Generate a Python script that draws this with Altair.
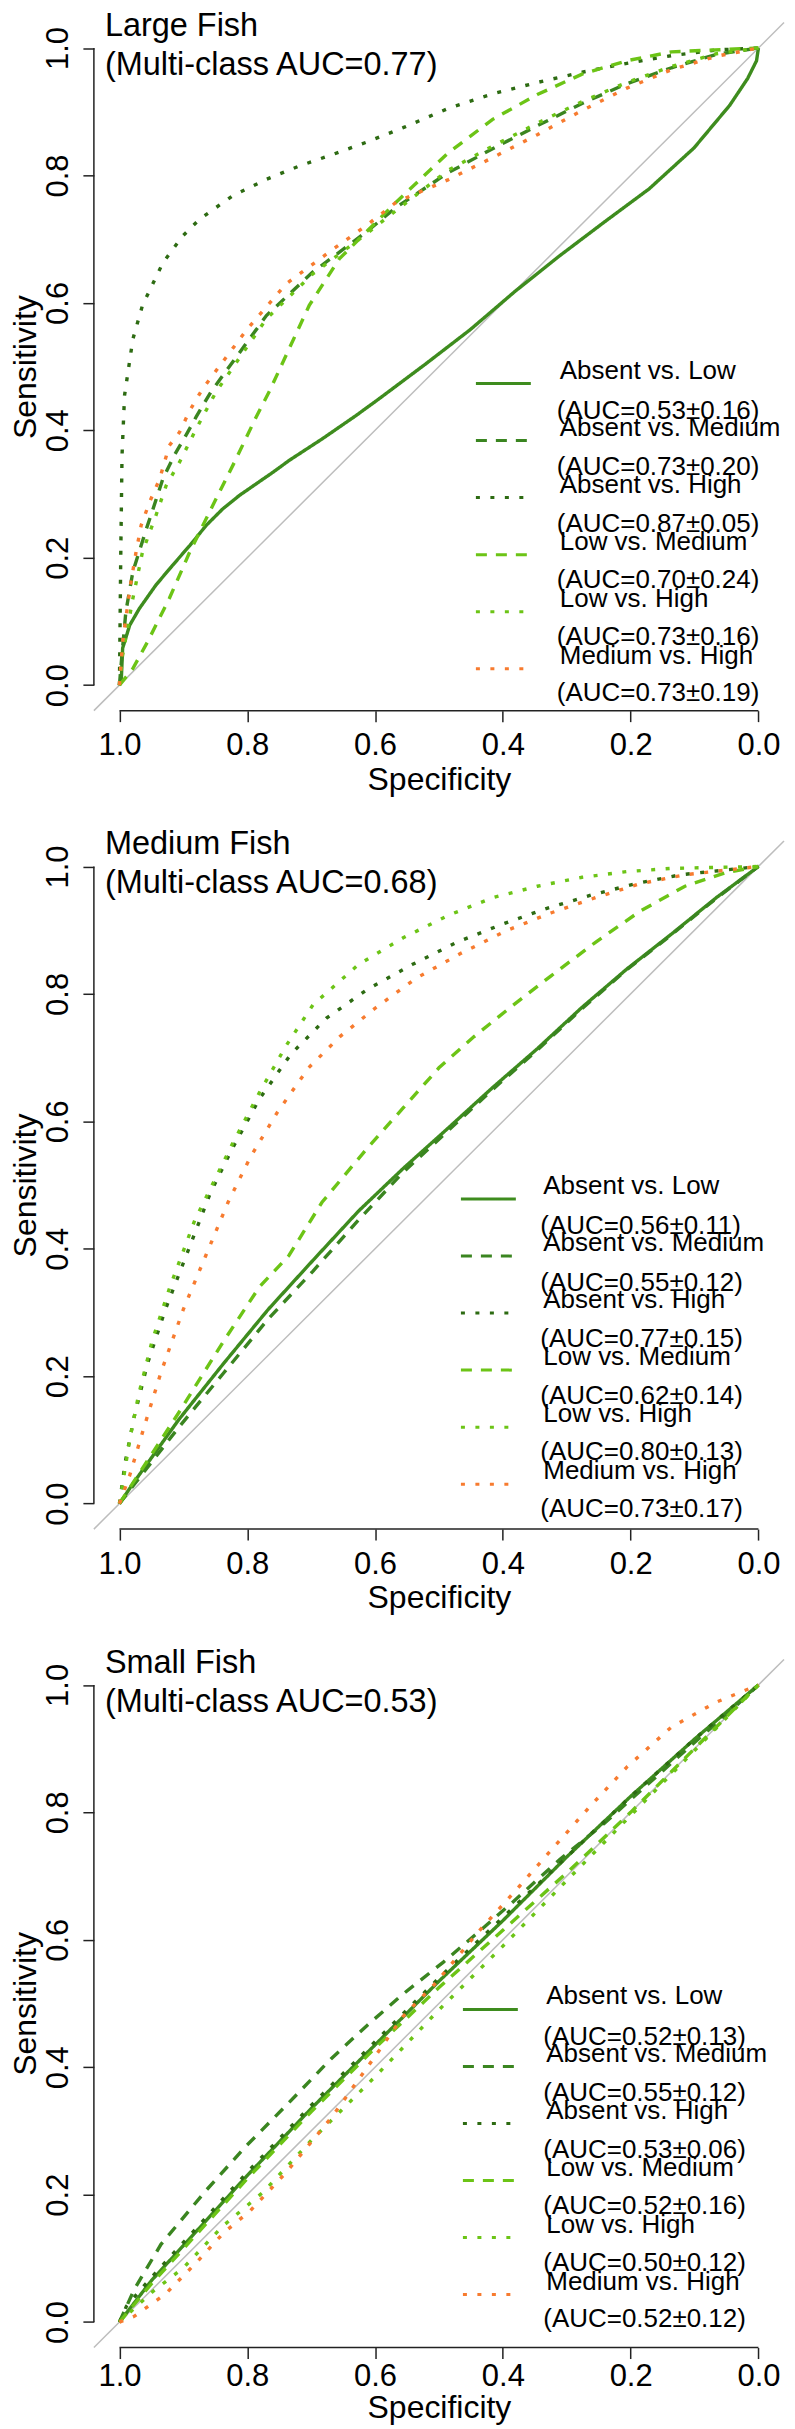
import altair as alt
import pandas as pd

FONT = "Liberation Sans"

PAIRS = ["Absent vs. Low", "Absent vs. Medium", "Absent vs. High",
         "Low vs. Medium", "Low vs. High", "Medium vs. High"]
COLORS = ["#3e8c1e", "#3a8520", "#2d6b12", "#6cc416", "#6cc416", "#f77b2f"]
DASHES = [[1, 0], [11, 9], [4, 10.5], [11, 9], [4, 10.5], [4, 10.5]]

TICKS = [0.0, 0.2, 0.4, 0.6, 0.8, 1.0]
AXIS_ENDS = [0.0, 1.0]
DIAG_SPEC = [1.04, -0.04]
DIAG_SENS = [-0.04, 1.04]

PANEL_NAMES = ["Large Fish", "Medium Fish", "Small Fish"]
MULTI_AUC = ["0.77", "0.68", "0.53"]
PAIR_AUC = [
    ["0.53±0.16", "0.73±0.20", "0.87±0.05", "0.70±0.24", "0.73±0.16", "0.73±0.19"],
    ["0.56±0.11", "0.55±0.12", "0.77±0.15", "0.62±0.14", "0.80±0.13", "0.73±0.17"],
    ["0.52±0.13", "0.55±0.12", "0.53±0.06", "0.52±0.16", "0.50±0.12", "0.52±0.12"],
]

# ---- Large fish: (1 - specificity, sensitivity) ----
L_AL_FPR = [0, .003, .005, .016, .031, .057, .083, .110, .136, .162, .188, .214, .240, .266, .318, .370, .407, .479, .549, .619, .689, .759, .829, .899, .955, .983, .997, 1]
L_AL_SEN = [0, .011, .058, .094, .120, .157, .188, .219, .251, .277, .298, .316, .334, .353, .387, .423, .450, .504, .558, .618, .674, .727, .779, .843, .910, .952, .980, 1]
L_AM_FPR = [0, .003, .010, .021, .031, .042, .052, .068, .086, .104, .120, .143, .230, .302, .386, .433, .514, .584, .654, .724, .794, .864, .934, 1]
L_AM_SEN = [0, .037, .115, .178, .210, .245, .275, .324, .361, .392, .421, .460, .580, .648, .711, .750, .804, .842, .878, .913, .944, .969, .990, 1]
L_AH_FPR = [0, .002, .004, .008, .021, .036, .068, .099, .125, .177, .230, .282, .334, .386, .444, .514, .584, .654, .724, .794, .864, .934, 1]
L_AH_SEN = [0, .200, .360, .455, .543, .596, .663, .705, .731, .768, .794, .815, .833, .852, .875, .905, .928, .946, .962, .976, .988, .997, 1]
L_LM_FPR = [0, .021, .044, .078, .110, .146, .180, .214, .235, .297, .344, .386, .433, .514, .584, .654, .724, .794, .864, 1]
L_LM_SEN = [0, .026, .068, .136, .209, .282, .350, .421, .462, .596, .669, .711, .758, .835, .888, .927, .959, .980, .994, 1]
L_LH_FPR = [0, .005, .021, .036, .057, .073, .094, .120, .151, .230, .302, .386, .433, .514, .584, .654, .724, .794, .864, .934, 1]
L_LH_SEN = [0, .047, .136, .209, .266, .313, .350, .402, .460, .575, .645, .708, .745, .808, .846, .882, .916, .946, .971, .991, 1]
L_MH_FPR = [0, .005, .010, .018, .026, .034, .047, .063, .078, .094, .110, .130, .200, .261, .334, .386, .433, .514, .584, .654, .724, .794, .864, .934, 1]
L_MH_SEN = [0, .068, .105, .162, .209, .251, .287, .324, .376, .397, .431, .465, .559, .630, .684, .721, .758, .793, .828, .864, .902, .937, .966, .987, 1]

# ---- Medium fish ----
M_AL_FPR = [0, .023, .093, .163, .233, .303, .374, .444, .514, .584, .654, .724, .794, .864, .934, 1]
M_AL_SEN = [0, .034, .132, .220, .305, .382, .459, .526, .589, .653, .714, .779, .839, .894, .951, 1]
M_AM_FPR = [0, .023, .093, .163, .233, .303, .374, .444, .514, .584, .654, .724, .794, .864, .934, 1]
M_AM_SEN = [0, .030, .120, .205, .290, .365, .445, .520, .585, .650, .712, .777, .838, .893, .950, 1]
M_AH_FPR = [0, .009, .023, .044, .072, .107, .142, .177, .219, .268, .324, .388, .458, .528, .598, .668, .738, .808, .878, 1]
M_AH_SEN = [0, .065, .136, .220, .305, .396, .487, .558, .635, .705, .762, .807, .846, .881, .909, .934, .955, .973, .987, 1]
M_LM_FPR = [0, .093, .163, .219, .265, .317, .388, .444, .500, .555, .612, .675, .745, .815, .885, .948, 1]
M_LM_SEN = [0, .143, .255, .340, .389, .473, .558, .621, .684, .733, .779, .828, .881, .930, .969, .990, 1]
M_LH_FPR = [0, .006, .016, .030, .051, .079, .118, .177, .219, .261, .303, .374, .444, .514, .584, .654, .724, .794, .864, 1]
M_LH_SEN = [0, .037, .100, .171, .255, .340, .445, .565, .645, .719, .783, .846, .888, .923, .951, .969, .983, .992, .997, 1]
M_MH_FPR = [0, .016, .037, .065, .100, .135, .170, .205, .247, .296, .345, .402, .465, .535, .605, .675, .745, .815, .885, 1]
M_MH_SEN = [0, .044, .115, .206, .305, .389, .473, .544, .614, .684, .733, .779, .825, .864, .899, .927, .951, .973, .987, 1]

# ---- Small fish ----
S_AL_FPR = [0, .05, .10, .20, .30, .40, .50, .60, .70, .80, .90, 1]
S_AL_SEN = [0, .065, .120, .230, .335, .435, .535, .630, .730, .825, .915, 1]
S_AM_FPR = [0, .023, .065, .135, .198, .261, .331, .388, .444, .507, .556, .612, .689, .759, .829, .899, .955, 1]
S_AM_SEN = [0, .051, .122, .206, .276, .340, .413, .466, .515, .565, .607, .656, .726, .783, .846, .909, .958, 1]
S_AH_FPR = [0, .011, .05, .10, .20, .30, .40, .50, .60, .70, .80, .90, 1]
S_AH_SEN = [0, .025, .070, .125, .235, .340, .440, .540, .635, .730, .825, .915, 1]
S_LM_FPR = [0, .05, .10, .20, .30, .40, .50, .60, .70, .80, .90, 1]
S_LM_SEN = [0, .060, .115, .225, .330, .430, .525, .615, .705, .800, .900, 1]
S_LH_FPR = [0, .051, .10, .161, .225, .30, .40, .50, .60, .70, .80, .90, 1]
S_LH_SEN = [0, .047, .085, .150, .204, .285, .385, .490, .590, .693, .795, .897, 1]
S_MH_FPR = [0, .023, .072, .121, .163, .205, .261, .331, .388, .444, .493, .563, .626, .682, .738, .794, .864, .934, 1]
S_MH_SEN = [0, .009, .044, .094, .140, .175, .235, .320, .400, .480, .530, .614, .684, .748, .811, .871, .934, .973, 1]

CURVES = [
    [(L_AL_FPR, L_AL_SEN), (L_AM_FPR, L_AM_SEN), (L_AH_FPR, L_AH_SEN),
     (L_LM_FPR, L_LM_SEN), (L_LH_FPR, L_LH_SEN), (L_MH_FPR, L_MH_SEN)],
    [(M_AL_FPR, M_AL_SEN), (M_AM_FPR, M_AM_SEN), (M_AH_FPR, M_AH_SEN),
     (M_LM_FPR, M_LM_SEN), (M_LH_FPR, M_LH_SEN), (M_MH_FPR, M_MH_SEN)],
    [(S_AL_FPR, S_AL_SEN), (S_AM_FPR, S_AM_SEN), (S_AH_FPR, S_AH_SEN),
     (S_LM_FPR, S_LM_SEN), (S_LH_FPR, S_LH_SEN), (S_MH_FPR, S_MH_SEN)],
]

# legend placement per panel (pixels from plot-area origin) and label gap
LEGEND_POS = [(381, 338, 27.5), (366, 335, 26), (368, 327, 27)]
NAME_DY, AUC_DY = -5.5, 36.5
NAME_ROW_PAD, AUC_ROW_PAD = 22.1, 1.5
# x-axis label padding per panel and title position (the bottom panel is tighter)
XLAB_PAD = [9, 9, 3]
XTITLE_PAD = [4, 4, 0]
XTITLE_Y = [None, None, 45]

W, H = 691, 689
AX_COLOR = "#222222"


def make_panel(k):
    rows = []
    keys = [f"{j}|(AUC={a})" for j, a in enumerate(PAIR_AUC[k])]
    for j, pair in enumerate(PAIRS):
        fpr, sen = CURVES[k][j]
        for i, (f, s) in enumerate(zip(fpr, sen)):
            rows.append({"spec": round(1 - f, 4), "sens": s, "pair": pair,
                         "auc": keys[j], "i": i})
    df = pd.DataFrame(rows)

    xs = alt.Scale(domain=[-0.04, 1.04], reverse=True, nice=False, zero=False)
    ys = alt.Scale(domain=[-0.04, 1.04], nice=False, zero=False)
    xopts = dict(values=TICKS, format=".1f", domain=False, grid=False,
                 tickSize=11, tickWidth=1.5, tickColor=AX_COLOR,
                 labelFontSize=31, labelColor="#000", labelPadding=XLAB_PAD[k],
                 labelFlush=False, labelOverlap=False,
                 titleFontSize=32, titleFontWeight="normal", titleColor="#000",
                 titlePadding=XTITLE_PAD[k])
    if XTITLE_Y[k] is not None:
        xopts["titleY"] = XTITLE_Y[k]
    xax = alt.Axis(**xopts)
    yax = alt.Axis(values=TICKS, format=".1f", domain=False, grid=False,
                   tickSize=11, tickWidth=1.5, tickColor=AX_COLOR,
                   labelFontSize=31, labelColor="#000", labelPadding=8.5,
                   labelAngle=270, labelAlign="center", labelBaseline="bottom",
                   labelFlush=False, labelOverlap=False,
                   titleFontSize=32, titleFontWeight="normal", titleColor="#000",
                   titleAngle=270, titleBaseline="alphabetic", titleX=-58)

    X = alt.X("spec:Q", scale=xs, axis=xax, title="Specificity")
    Y = alt.Y("sens:Q", scale=ys, axis=yax, title="Sensitivity")

    diag = alt.Chart(pd.DataFrame({"spec": DIAG_SPEC, "sens": DIAG_SENS})).mark_line(
        color="#bdbdbd", strokeWidth=1.5).encode(x=X, y=Y)

    lx, ly, loff = LEGEND_POS[k]
    common = dict(orient="none", legendX=lx, padding=0, symbolSize=3025,
                  labelFontSize=26, labelColor="#000", labelLimit=500,
                  labelOffset=loff, labelBaseline="bottom")
    leg_names = alt.Legend(legendY=ly + NAME_DY, rowPadding=NAME_ROW_PAD,
                           symbolType="stroke", symbolStrokeWidth=3, **common)
    leg_auc = alt.Legend(legendY=ly + AUC_DY, rowPadding=AUC_ROW_PAD,
                         symbolOpacity=0, symbolStrokeWidth=0,
                         labelExpr="split(datum.label, '|')[1]", **common)

    lines = alt.Chart(df).mark_line(strokeWidth=3.4, strokeCap="butt").encode(
        x=X, y=Y,
        color=alt.Color("pair:N", scale=alt.Scale(domain=PAIRS, range=COLORS),
                        legend=leg_names, title=None),
        strokeDash=alt.StrokeDash("pair:N", scale=alt.Scale(domain=PAIRS, range=DASHES),
                                  legend=leg_names, title=None),
        order="i:Q",
    )
    # invisible carrier of the second legend line (AUC values)
    auc_marks = alt.Chart(df).mark_point(opacity=0, size=1).encode(
        x=X, y=Y,
        shape=alt.Shape("auc:N", scale=alt.Scale(domain=keys, range=["circle"] * 6),
                        legend=leg_auc, title=None),
    )

    ends = pd.DataFrame({"lo": [AXIS_ENDS[0]], "hi": [AXIS_ENDS[1]]})
    yline = alt.Chart(ends).mark_rule(color=AX_COLOR, strokeWidth=1.5).encode(
        x=alt.value(0),
        y=alt.Y("lo:Q", scale=ys, axis=yax, title="Sensitivity"),
        y2="hi:Q")
    xline = alt.Chart(ends).mark_rule(color=AX_COLOR, strokeWidth=1.5).encode(
        y=alt.value(H),
        x=alt.X("lo:Q", scale=xs, axis=xax, title="Specificity"),
        x2="hi:Q")

    title = alt.TitleParams(text=[PANEL_NAMES[k], f"(Multi-class AUC={MULTI_AUC[k]})"],
                            anchor="start", frame="group", offset=-62, dx=11,
                            fontSize=32.5, fontWeight="normal", lineHeight=39,
                            color="#000")
    return alt.layer(diag, lines, auc_marks, yline, xline).properties(
        width=W, height=H, title=title)


chart = alt.vconcat(make_panel(0), make_panel(1), make_panel(2), spacing=32.5).resolve_scale(
    color="independent", strokeDash="independent", shape="independent"
).properties(
    padding={"left": 2, "top": 0, "right": 0, "bottom": 0}
).configure(font=FONT).configure_view(strokeWidth=0)

chart.save("out.html", embed_options={"renderer": "svg", "actions": False})
